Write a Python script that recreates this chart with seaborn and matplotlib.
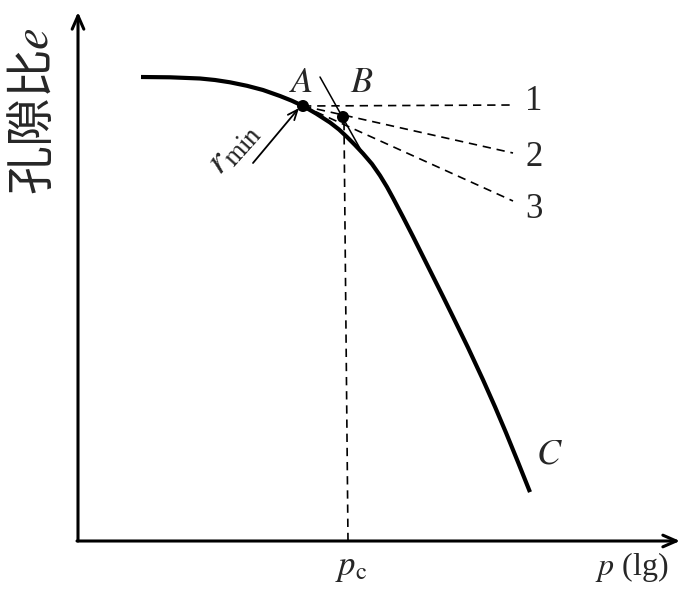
import numpy as np
import pandas as pd
import matplotlib
matplotlib.use('Agg')
import matplotlib.pyplot as plt
import seaborn as sns

# e-lg p 曲线 (读图估计, 原点在坐标轴交点)
curve_x = [63, 92, 122, 137, 152, 169, 185, 202, 214, 225, 238, 252, 261, 269, 277, 285,
           294, 302, 309, 315, 325, 335, 345, 355, 365, 375, 390, 405, 417, 428, 440, 452]
curve_y = [464, 463.7, 462.5, 461, 458.7, 455.2, 451, 445, 440.2, 435, 427.5, 418.5, 411.5,
           404, 396, 387.5, 377, 365.5, 354, 343, 324, 304.5, 284.5, 264.5, 244.5, 224.2,
           193.4, 161.2, 134.2, 108.3, 78.9, 48.9]

point_names = ['A', 'B']
point_x = [225, 265]
point_y = [435, 424]

# 从 A 点出发的三条虚线 1, 2, 3 的终点
ray_names = ['1', '2', '3']
ray_end_x = [434, 435, 435]
ray_end_y = [436, 388, 340]

# 直线段 C 的延长线
ext_x = [242, 284]
ext_y = [464, 389]

# 竖直虚线 B -> p_c
pc_x = [266, 270]
pc_y = [419, 0]

# r_min 箭头
rmin_tail = (175, 378)
rmin_head = (221, 433)

sns.set_theme(style='white')
plt.rcParams['font.family'] = ['Liberation Serif', 'DejaVu Serif']
plt.rcParams['mathtext.fontset'] = 'stix'

fig = plt.figure(figsize=(7, 6.1), dpi=100)
ax = fig.add_axes([0, 0, 1, 1])
ax.set_xlim(-78, 622)
ax.set_ylim(-69, 541)
ax.axis('off')

df = pd.DataFrame({'x': curve_x, 'y': curve_y})
sns.lineplot(data=df, x='x', y='y', sort=False, color='black', lw=3.0, ax=ax,
             solid_capstyle='butt', solid_joinstyle='round')

# 虚线
for ex, ey in zip(ray_end_x, ray_end_y):
    ax.plot([point_x[0], ex], [point_y[0], ey], color='black', lw=1.2,
            linestyle=(0, (5, 3.5)))
ax.plot(pc_x, pc_y, color='black', lw=1.2, linestyle=(0, (5, 3.5)))
ax.plot(ext_x, ext_y, color='black', lw=1.1)

sns.scatterplot(x=point_x, y=point_y, color='black', s=75, ax=ax, zorder=5,
                edgecolor='none')

# 坐标轴箭头
arrow_kw = dict(arrowstyle='->, head_length=0.8, head_width=0.35', color='black',
                lw=2.2, shrinkA=0, shrinkB=0)
ax.annotate('', xy=(0, 529), xytext=(0, 0), arrowprops=arrow_kw)
ax.annotate('', xy=(602, 0), xytext=(-1, 0), arrowprops=arrow_kw)

ax.annotate('', xy=rmin_head, xytext=rmin_tail,
            arrowprops=dict(arrowstyle='->, head_length=0.6, head_width=0.25',
                            color='black', lw=1.3, shrinkA=0, shrinkB=0))
ax.text(155, 393, r'$r_{\mathrm{min}}$', fontsize=28, rotation=48,
        ha='center', va='center')

# 标注
ax.text(223, 458, r'$A$', fontsize=26, ha='center', va='center')
ax.text(284, 458, r'$B$', fontsize=26, ha='center', va='center')
ax.text(471, 86, r'$C$', fontsize=26, ha='center', va='center')
for name, ey in zip(ray_names, [439, 384, 331]):
    ax.text(456, ey, name, fontsize=25, ha='center', va='center')

ax.text(273, -27, r'$p_{\mathrm{c}}$', fontsize=25, ha='center', va='center')
ax.text(554, -26, r'$p$ (lg)', fontsize=23, ha='center', va='center')
ax.text(-44, 430, r'孔隙比$e$', fontsize=35, rotation=90, ha='center', va='center',
        family=['Noto Sans CJK SC', 'DejaVu Sans'], fontweight='light')

fig.savefig('out.png', dpi=100, facecolor='white')
